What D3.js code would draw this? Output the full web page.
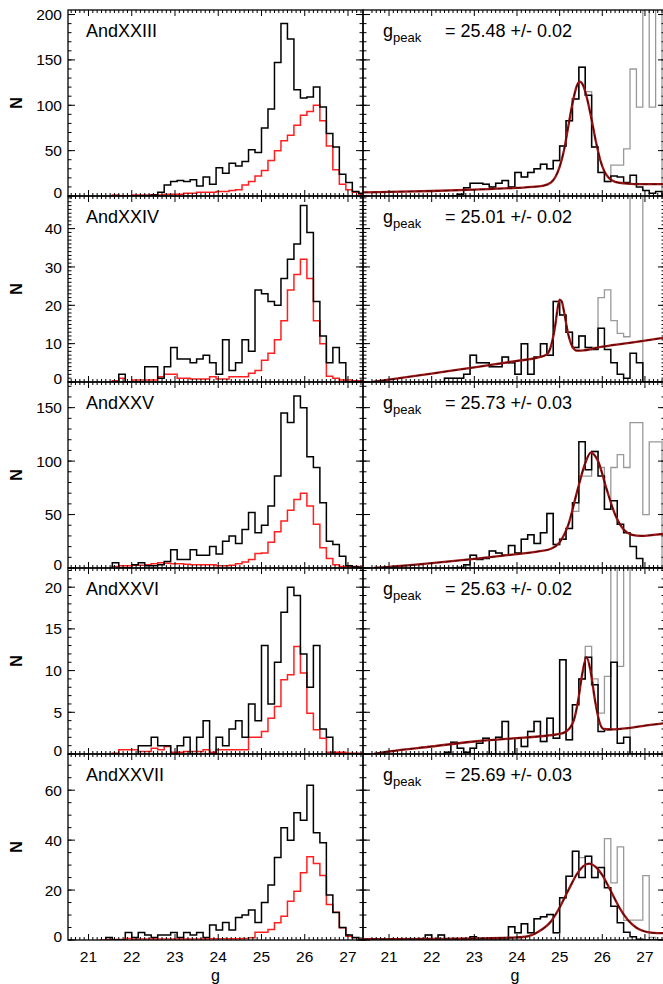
<!DOCTYPE html>
<html><head><meta charset="utf-8">
<script src="https://cdn.jsdelivr.net/npm/d3@7"></script>
<style>body{margin:0;background:#fff} svg{display:block} text{font-family:"Liberation Sans",Arial,Helvetica,sans-serif;fill:#000}</style>
</head><body><svg id="c" width="663" height="984"></svg>
<script>
const _ = null;
// bin lower/upper edges (g mag)
const binEdges = [20.5,20.65,20.8,20.95,21.1,21.25,21.4,21.55,21.7,21.85,22.0,22.15,22.3,22.45,22.6,22.75,22.9,23.05,23.2,23.35,23.5,23.65,23.8,23.95,24.1,24.25,24.4,24.55,24.7,24.85,25.0,25.15,25.3,25.45,25.6,25.75,25.9,26.05,26.2,26.35,26.5,26.65,26.8,26.95,27.1,27.25,27.4];

const galaxyNames = ["AndXXIII","AndXXIV","AndXXV","AndXXVI","AndXXVII"];
const peakLabels = ["25.48 +/- 0.02","25.01 +/- 0.02","25.73 +/- 0.03","25.63 +/- 0.02","25.69 +/- 0.03"];
const yMaxes = [205, 48.5, 174, 22.3, 74.5];
const yMajorTicks = [[0,50,100,150,200],[0,10,20,30,40],[0,50,100,150],[0,5,10,15,20],[0,20,40,60]];
const yMinorSteps = [10, 1, 10, 1, 5];
const xTickLabels = [21,22,23,24,25,26,27];

// left panels: all stars (black) and colour-selected (red)
const andXXIII_all = [_,_,_,_,_,_,_,_,_,_,0,0,0,1,4,12,16,17,16,18,11,21,13,31,25,36,33,38,51,48,75,96,147,190,173,117,108,109,120,98,69,54,24,15,5,3];
const andXXIII_sel = [_,_,_,_,_,_,_,1,0,0,1,1,1,1,1,2,2,2,3,3,4,4,4,5,5,6,7,12,16,22,28,39,50,61,67,78,89,93,100,83,55,29,13,7,4,2];
const andXXIV_all = [_,_,_,_,_,_,_,0,2,0,0,0,4,4,1,4,9,6,6,5,6,7,5,2,11,3,5,11,8,24,23,21,20,27,32,36,46,39,21,12,5,9,5,0,0,0];
const andXXIV_sel = [_,_,_,_,_,_,_,0.3,1,0,0.5,0.5,0.5,0.5,1.4,2,2,1,1,0.8,0.8,0.8,1.4,0.8,0.8,1.4,1.4,1.4,2.3,3,5.7,7.5,11,16,24,28,32,27,16,10,1.5,1,0.5,0.5,0.3,0.3];
const andXXV_all = [_,_,_,_,_,_,_,5,0,0,3,5,2,2,3,6,17,8,8,17,12,12,20,13,25,30,23,36,52,33,40,58,86,145,136,161,150,104,94,61,25,22,11,2,1,0];
const andXXV_sel = [_,_,_,_,_,_,_,1.5,2,2,2.5,2.5,3,4,5,4.5,4,4,3.5,3,3,3,3,2,2,2.5,4,5.5,8,13.5,14,24,34,44,54,64,70,58,41,19,9,3,1.5,1.5,1.5,1];
const andXXVI_all = [_,_,_,_,_,_,_,_,_,_,_,1,1,2,1,1,0,1,2,0,2,4,0,2,1,3,4,2,6,4,13,6,11,17,20,19,12,8,13,3,2,0,0,0,0,0];
const andXXVI_sel = [_,_,_,_,_,_,_,0.1,0.5,0.5,0.5,0.3,0.3,0.7,0.5,0.9,0.2,0.2,0.3,0.3,0.3,0.5,0.2,0.5,0.5,0.5,0.5,0.5,2,2,2.7,4.3,5.7,8.9,9.5,12.9,9.7,4.9,2.9,1.9,0.2,0.2,0.2,0.1,0.1,0.1];
const andXXVII_all = [_,_,_,_,_,_,1,0,0,3,1,3,2,1,2,2,3,1,3,2,3,1,6,4,7,4,9,10,12,7,15,22,33,45,40,51,48,62,43,39,18,11,5,2,1,0];
const andXXVII_sel = [_,_,_,_,_,0,0.2,0.2,0.2,0.6,0.3,0.4,0.4,0.4,0.4,0.4,0.4,0.4,0.4,0.4,0.4,0.4,0.5,0.5,0.5,0.5,0.5,0.6,0.9,3.1,3.1,4.2,6.9,9.5,15.5,19.5,26.9,33.3,30.6,25.8,14.2,11.1,4.9,1.5,0.9,0.4];

// right panels: weighted histogram (black) and raw histogram (grey)
const andXXIII_w = [_,_,_,_,_,_,_,_,_,_,_,_,_,0,2,9,14,14,13,10,14,17,10,26,21,26,30,35,30,39,55,83,107,142,111,54,26,16,22,21,15,23,10,6,3,5];
const andXXIII_raw = [_,_,_,_,_,_,_,_,_,_,_,_,_,0,2,9,14,14,13,10,14,17,10,26,21,26,30,35,30,39,55,83,107,142,115,54,26,16,34,34,52,140,98,250,98,250];
const andXXIV_w = [_,_,_,_,_,_,_,_,_,_,_,0,1,1,1,2,7,5,5,4,4,6.5,5,2,10,2,6.5,10,7,21,17.5,13,9,12,9,8.5,14,8.5,5,2,1,7.5,5,0,0,0];
const andXXIV_raw = [_,_,_,_,_,_,_,_,_,_,_,0,1,1,1,2,7,5,5,4,4,6.5,5,2,10,2,6.5,10,7,21,17.5,13,9,12,9,9,22,24,16,12.7,11.8,60,60,0,_,_];
const andXXV_w = [_,_,_,_,_,_,_,_,_,_,_,_,_,0,0.5,3,12,8,9,16,14,12,21,14,27,31,23,33,51,22,27,37,61,118,92,109,86,55,63,41,33,20,9,0,0,0];
const andXXV_raw = [_,_,_,_,_,_,_,_,_,_,_,_,_,0,0.5,3,12,8,9,16,14,12,21,14,27,31,23,33,51,22,27,37,53,86,86,109,94,55,94,106,94,136,136,50,118,118];
const andXXVI_w = [_,_,_,_,_,_,_,_,_,_,_,_,0.2,1.4,0.7,0.2,0.7,1.3,1.9,0,2,3.9,0,1.9,0.9,2.7,3.9,1.5,4.3,1.9,11.3,1.7,5.9,9,11.6,8.3,2.7,2.9,11,1.3,2,0,0,_,_,_];
const andXXVI_raw = [_,_,_,_,_,_,_,_,_,_,_,_,0.2,1.4,0.7,0.2,0.7,1.3,1.9,0,2,3.9,0,1.9,0.9,2.7,3.9,1.5,4.3,1.9,11.3,1.7,5.9,9,12.9,9,4.9,9.3,30,10.5,30,0,_,_,_,_];
const andXXVII_w = [_,_,_,_,_,_,_,_,_,2,0.5,2,0.5,0.3,0.3,0.5,1.3,0.5,0.5,0.5,0.5,0.5,5.3,2.9,6.5,2.9,8.5,9.3,10.2,2.9,16.9,25.5,35.5,25,33.5,25,29,20.9,13.5,6.9,3.1,1.3,0.3,0,0,0];
const andXXVII_raw = [_,_,_,_,_,_,_,_,_,2,0.5,2,0.5,0.3,0.3,0.5,1.3,0.5,0.5,0.5,0.5,0.5,5.3,2.9,6.5,2.9,8.5,9.3,10.2,2.9,16.9,25.5,35.5,33,33.5,25,29,40.6,22.9,37.3,7.9,8,8,25.8,1,0];

// fitted model curves: [g, N]
const andXXIII_fit = [[20.39,4],[21,4.5],[22,5.5],[23,7],[24,9],[24.5,10.5],[24.7,12.5],[24.8,15],[24.9,21],[25.0,32],[25.1,50],[25.2,76],[25.3,102],[25.4,121],[25.47,126],[25.55,122],[25.65,106],[25.75,84],[25.85,60],[25.95,40],[26.05,27],[26.15,20],[26.3,15.5],[26.5,14],[27.0,13],[27.47,13]];
const andXXIV_fit = [[20.6,0],[21,0.6],[22,2.2],[23,3.8],[24,5.5],[24.5,6.4],[24.7,7.2],[24.8,9.5],[24.9,15],[24.95,19],[25.0,21.5],[25.05,21],[25.1,18.5],[25.2,12.5],[25.3,9.2],[25.4,8.2],[25.5,8.2],[26,9.2],[26.5,10],[27,10.8],[27.47,11.6]];
const andXXV_fit = [[20.65,0],[21,1],[22,4.5],[23,8.5],[24,13],[24.5,15.5],[24.8,18],[25.0,24],[25.2,40],[25.4,70],[25.6,98],[25.73,108],[25.9,100],[26.1,74],[26.3,50],[26.5,36],[26.7,31],[26.9,30],[27.2,31],[27.47,32]];
const andXXVI_fit = [[20.65,0],[21,0.3],[22,0.9],[23,1.5],[24,1.9],[24.5,2.1],[25.0,2.4],[25.15,2.7],[25.25,3.2],[25.33,4],[25.43,6.3],[25.53,9.6],[25.63,11.6],[25.73,9.8],[25.83,6.4],[25.93,3.9],[26.03,3.0],[26.2,2.95],[26.6,3.1],[27.0,3.4],[27.47,3.7]];
const andXXVII_fit = [[20.39,0.3],[22,0.4],[23,0.6],[23.8,0.9],[24.2,1.3],[24.5,3.3],[24.8,7.5],[25.0,13],[25.2,19.8],[25.4,26.3],[25.55,29.5],[25.69,30.6],[25.85,29.2],[26.0,26],[26.2,19.6],[26.4,13],[26.6,8],[26.8,4.9],[27.0,3.4],[27.2,2.85],[27.47,2.7]];

const leftAll = [andXXIII_all, andXXIV_all, andXXV_all, andXXVI_all, andXXVII_all];
const leftSel = [andXXIII_sel, andXXIV_sel, andXXV_sel, andXXVI_sel, andXXVII_sel];
const rightW = [andXXIII_w, andXXIV_w, andXXV_w, andXXVI_w, andXXVII_w];
const rightRaw = [andXXIII_raw, andXXIV_raw, andXXV_raw, andXXVI_raw, andXXVII_raw];
const fits = [andXXIII_fit, andXXIV_fit, andXXV_fit, andXXVI_fit, andXXVII_fit];

// ---- layout ----
const svg = d3.select("#c");
const rowTop = [10,196,382,568,754], rowH = 186;
const cols = [{x0:68,x1:363,dom:[20.526,27.347]},{x0:363,x1:665,dom:[20.39,27.47]}];

function stepPath(vals, x, y) {
  let d = "", i = 0;
  while (i < vals.length) {
    if (vals[i] == null) { i++; continue; }
    d += `M${x(binEdges[i])},${y(0)}`;
    while (i < vals.length && vals[i] != null) {
      d += `V${y(vals[i])}H${x(binEdges[i+1])}`;
      i++;
    }
    d += `V${y(0)}`;
  }
  return d;
}

const defs = svg.append("defs");

galaxyNames.forEach((name, r) => {
  const top = rowTop[r], bot = top + rowH;
  const y = d3.scaleLinear().domain([0, yMaxes[r]]).range([bot, top]);
  cols.forEach((c, ci) => {
    const x = d3.scaleLinear().domain(c.dom).range([c.x0, c.x1]);
    const id = `clip${r}_${ci}`;
    defs.append("clipPath").attr("id", id).append("rect")
      .attr("x", c.x0).attr("y", top).attr("width", c.x1 - c.x0).attr("height", rowH);
    const g = svg.append("g");
    const m = g.append("g").attr("clip-path", `url(#${id})`);
    if (ci === 0) {
      m.append("path").attr("d", stepPath(leftSel[r], x, y))
        .attr("fill","none").attr("stroke","#ff1f1f").attr("stroke-width",1.5);
      m.append("path").attr("d", stepPath(leftAll[r], x, y))
        .attr("fill","none").attr("stroke","#000").attr("stroke-width",1.5);
    } else {
      m.append("path").attr("d", stepPath(rightRaw[r], x, y))
        .attr("fill","none").attr("stroke","#999").attr("stroke-width",1.3);
      m.append("path").attr("d", stepPath(rightW[r], x, y))
        .attr("fill","none").attr("stroke","#000").attr("stroke-width",1.5);
      const line = d3.line().x(d => x(d[0])).y(d => y(d[1])).curve(d3.curveMonotoneX);
      m.append("path").attr("d", line(fits[r]))
        .attr("fill","none").attr("stroke","#9a1414").attr("stroke-width",2.3);
      m.append("path").attr("d", line(fits[r]))
        .attr("fill","none").attr("stroke","#3a0000").attr("stroke-width",0.9)
        .attr("stroke-dasharray","5,4");
    }
    // ticks
    const tk = g.append("g").attr("stroke","#000").attr("stroke-width",1);
    const majX = d3.range(21, 28);
    const minX = d3.range(206, 275).map(v => v/10).filter(v => v >= c.dom[0] && v <= c.dom[1] && Math.abs(v - Math.round(v)) > 1e-6);
    majX.forEach(v => {
      tk.append("line").attr("x1",x(v)).attr("x2",x(v)).attr("y1",bot).attr("y2",bot-6);
      tk.append("line").attr("x1",x(v)).attr("x2",x(v)).attr("y1",top).attr("y2",top+6);
    });
    minX.forEach(v => {
      tk.append("line").attr("x1",x(v)).attr("x2",x(v)).attr("y1",bot).attr("y2",bot-3);
      tk.append("line").attr("x1",x(v)).attr("x2",x(v)).attr("y1",top).attr("y2",top+3);
    });
    const minY = d3.range(0, yMaxes[r] + 1e-9, yMinorSteps[r]);
    minY.forEach(v => {
      const yy = y(v);
      tk.append("line").attr("x1",c.x0).attr("x2",c.x0+3.5).attr("y1",yy).attr("y2",yy);
      tk.append("line").attr("x1",c.x1).attr("x2",c.x1-3.5).attr("y1",yy).attr("y2",yy);
    });
    yMajorTicks[r].forEach(v => {
      const yy = y(v);
      tk.append("line").attr("x1",c.x0).attr("x2",c.x0+7).attr("y1",yy).attr("y2",yy);
      tk.append("line").attr("x1",c.x1).attr("x2",c.x1-7).attr("y1",yy).attr("y2",yy);
    });
    g.append("rect").attr("x",c.x0).attr("y",top).attr("width",c.x1-c.x0).attr("height",rowH)
      .attr("fill","none").attr("stroke","#000").attr("stroke-width",1.3);

    if (ci === 0) {
      yMajorTicks[r].forEach(v => {
        g.append("text").attr("x", 62).attr("y", y(v) - (v === 0 ? 4 : 0)).attr("dy","0.36em")
          .attr("text-anchor","end").attr("font-size",15.5).text(v);
      });
      g.append("text").attr("x", 86).attr("y", top + 27).attr("font-size", 18).text(name);
      g.append("text").attr("transform", `translate(22,${top + rowH/2}) rotate(-90)`)
        .attr("text-anchor","middle").attr("font-size",16).attr("font-weight","bold").text("N");
    } else {
      const t = g.append("text").attr("x", 383).attr("y", top + 27).attr("font-size", 18);
      t.append("tspan").text("g");
      t.append("tspan").attr("font-size", 13).attr("dy", 5).text("peak");
      t.append("tspan").attr("x", 445).attr("dy", -5).text("= " + peakLabels[r]);
    }
    if (r === galaxyNames.length - 1) {
      xTickLabels.forEach(v => {
        g.append("text").attr("x", x(v)).attr("y", 962).attr("text-anchor","middle")
          .attr("font-size",15.5).text(v);
      });
      g.append("text").attr("x", (c.x0 + Math.min(c.x1, 663)) / 2 + (ci ? 2 : 0)).attr("y", 981)
        .attr("text-anchor","middle").attr("font-size",16).text("g");
    }
  });
});
</script></body></html>
